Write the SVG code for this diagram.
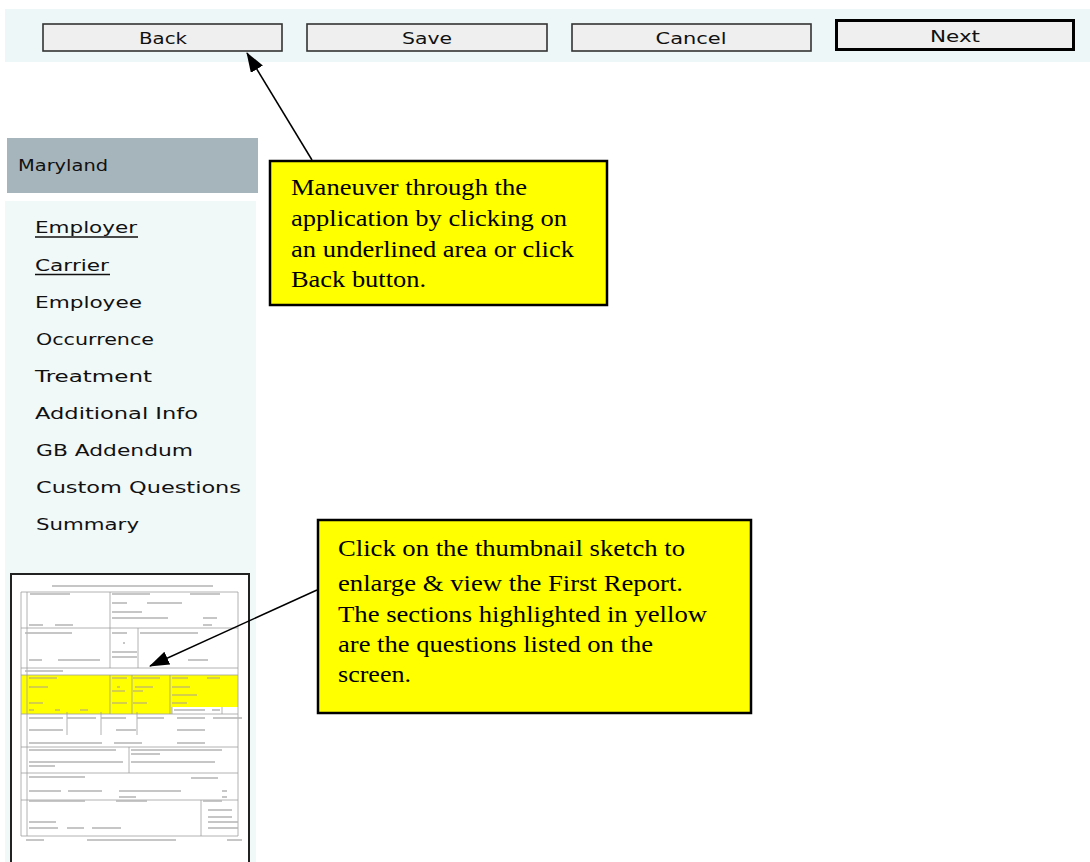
<svg xmlns="http://www.w3.org/2000/svg" width="1090" height="862" viewBox="0 0 1090 862">
<style>
.btn{fill:#efefef;stroke:#333;stroke-width:1.6}
.btnt{font-family:"DejaVu Sans",Verdana,sans-serif;font-size:16px;fill:#111;text-anchor:middle}
.menu{font-family:"DejaVu Sans",Verdana,sans-serif;font-size:16px;fill:#111}
.note{fill:#ffff00;stroke:#000;stroke-width:2.5}
.nt{font-family:"Liberation Serif","Times New Roman",serif;font-size:24px;fill:#000}
.conn{stroke:#000;stroke-width:1.5;fill:none}
.fl{stroke:#a0a0a0;stroke-width:0.8;fill:none}
.tx{stroke:#b4b4b4;stroke-width:1.6;fill:none}
.ty{stroke:#c8c060;stroke-width:1.6;fill:none}
</style>
<defs>
<marker id="ah" markerWidth="22" markerHeight="16" refX="19" refY="7" orient="auto" markerUnits="userSpaceOnUse">
<path d="M0,0 L20,7 L0,14 z" fill="#000"/>
</marker>
</defs>
<rect width="1090" height="862" fill="#fff"/>

<g id="toolbar">
<rect x="5" y="9" width="1085" height="53" fill="#eef7f7"/>
</g>
<g id="btn-back"><rect class="btn" x="43" y="24" width="239" height="27"/><text class="btnt" x="163" y="44" textLength="48" lengthAdjust="spacingAndGlyphs">Back</text></g>
<g id="btn-save"><rect class="btn" x="307" y="24" width="240" height="27"/><text class="btnt" x="427" y="44" textLength="50" lengthAdjust="spacingAndGlyphs">Save</text></g>
<g id="btn-cancel"><rect class="btn" x="572" y="24" width="239" height="27"/><text class="btnt" x="691" y="44" textLength="71" lengthAdjust="spacingAndGlyphs">Cancel</text></g>
<g id="btn-next"><rect x="836.5" y="20.5" width="237" height="29" fill="#efefef" stroke="#000" stroke-width="3"/><text class="btnt" x="955" y="42" textLength="50" lengthAdjust="spacingAndGlyphs">Next</text></g>

<g id="sidebar-header">
<rect x="7" y="138" width="251" height="55" fill="#a6b5bb"/>
<text class="menu" x="18" y="171" textLength="90" lengthAdjust="spacingAndGlyphs">Maryland</text>
</g>

<g id="sidebar-menu">
<rect x="5" y="201" width="251" height="661" fill="#f0f8f8"/>
<text class="menu" x="35" y="233" textLength="102" lengthAdjust="spacingAndGlyphs">Employer</text>
<line x1="35" y1="237" x2="138" y2="237" stroke="#111" stroke-width="1.4"/>
<text class="menu" x="35" y="271" textLength="74" lengthAdjust="spacingAndGlyphs">Carrier</text>
<line x1="35" y1="274.5" x2="110" y2="274.5" stroke="#111" stroke-width="1.4"/>
<text class="menu" x="35" y="308" textLength="107" lengthAdjust="spacingAndGlyphs">Employee</text>
<text class="menu" x="36" y="345" textLength="118" lengthAdjust="spacingAndGlyphs">Occurrence</text>
<text class="menu" x="35" y="382" textLength="117" lengthAdjust="spacingAndGlyphs">Treatment</text>
<text class="menu" x="35" y="419" textLength="163" lengthAdjust="spacingAndGlyphs">Additional Info</text>
<text class="menu" x="36" y="456" textLength="157" lengthAdjust="spacingAndGlyphs">GB Addendum</text>
<text class="menu" x="36" y="493" textLength="205" lengthAdjust="spacingAndGlyphs">Custom Questions</text>
<text class="menu" x="36" y="530" textLength="103" lengthAdjust="spacingAndGlyphs">Summary</text>
</g>

<g id="thumbnail">
<rect x="11" y="574" width="238" height="292" fill="#fff" stroke="#222" stroke-width="2"/>
<rect x="21" y="675" width="217" height="32" fill="#ffff00"/>
<rect x="21" y="707" width="151" height="7" fill="#ffff00"/>
<path class="fl" d="M21,592 H238 V836 H21 Z M27,592 V836 M21,628 H238 M21,668 H238 M21,675 H238 M21,714 H238 M21,747 H238 M21,773 H238 M21,800 H238 M110,592 V628 M110,628 V668 M138,628 V668 M110,675 V714 M132,675 V714 M170,675 V714 M172,707 V714 M67,712 V735 M101,712 V735 M137,712 V735 M129,747 V773 M201,800 V836 M222,707 V714"/>
<path class="tx" d="M52,586 H213 M30,594 H70 M112,594 H150 M190,594 H220 M112,603 H127 M147,603 H182 M112,612 H142 M112,618 H168 M203,618 H217 M29,625 H43 M55,625 H73 M203,625 H212 M25,633 H72 M112,633 H127 M140,633 H198 M123,643 H125 M112,652 H137 M112,657 H137 M29,660 H42 M58,660 H100 M188,660 H208 M25,671 H63 M174,710 H205 M212,710 H220 M29,718 H63 M67,718 H96 M101,718 H126 M137,718 H164 M177,718 H205 M213,718 H242 M29,730 H63 M116,730 H136 M177,730 H205 M29,743 H102 M114,743 H142 M177,743 H205 M29,750 H116 M131,750 H222 M131,754 H160 M29,762 H123 M131,762 H215 M29,766 H55 M29,777 H85 M191,778 H218 M29,791 H61 M68,791 H102 M119,791 H181 M222,791 H227 M119,797 H136 M222,797 H227 M29,801 H85 M116,801 H147 M203,801 H222 M208,810 H232 M208,817 H232 M29,822 H56 M208,822 H238 M29,828 H58 M67,828 H84 M92,828 H121 M208,828 H238 M26,840 H44 M87,840 H176 M227,840 H242"/>
<path class="ty" d="M29,678 H57 M112,678 H127 M133,678 H160 M172,678 H188 M207,678 H220 M29,687 H48 M117,687 H120 M135,687 H153 M172,687 H190 M112,691 H125 M133,691 H143 M172,695 H197 M29,703 H43 M112,703 H127 M133,703 H147 M172,703 H187 M29,710 H34 M55,710 H60 M80,710 H88"/>
</g>

<g id="note-navigation">
<rect class="note" x="270" y="161" width="337" height="144"/>
<text class="nt" x="291" y="195" textLength="236" lengthAdjust="spacingAndGlyphs">Maneuver through the</text>
<text class="nt" x="291" y="226" textLength="276" lengthAdjust="spacingAndGlyphs">application by clicking on</text>
<text class="nt" x="291" y="257" textLength="283" lengthAdjust="spacingAndGlyphs">an underlined area or click</text>
<text class="nt" x="291" y="287" textLength="135" lengthAdjust="spacingAndGlyphs">Back button.</text>
</g>

<g id="note-thumbnail">
<rect class="note" x="318" y="520" width="433" height="193"/>
<text class="nt" x="338" y="556" textLength="347" lengthAdjust="spacingAndGlyphs">Click on the thumbnail sketch to</text>
<text class="nt" x="338" y="591" textLength="345" lengthAdjust="spacingAndGlyphs">enlarge &amp; view the First Report.</text>
<text class="nt" x="338" y="622" textLength="369" lengthAdjust="spacingAndGlyphs">The sections highlighted in yellow</text>
<text class="nt" x="338" y="652" textLength="315" lengthAdjust="spacingAndGlyphs">are the questions listed on the</text>
<text class="nt" x="338" y="682" textLength="73" lengthAdjust="spacingAndGlyphs">screen.</text>
</g>

<g id="connectors">
<line class="conn" x1="312" y1="160" x2="247" y2="53" marker-end="url(#ah)"/>
<line class="conn" x1="317" y1="590" x2="150" y2="666" marker-end="url(#ah)"/>
</g>
</svg>
